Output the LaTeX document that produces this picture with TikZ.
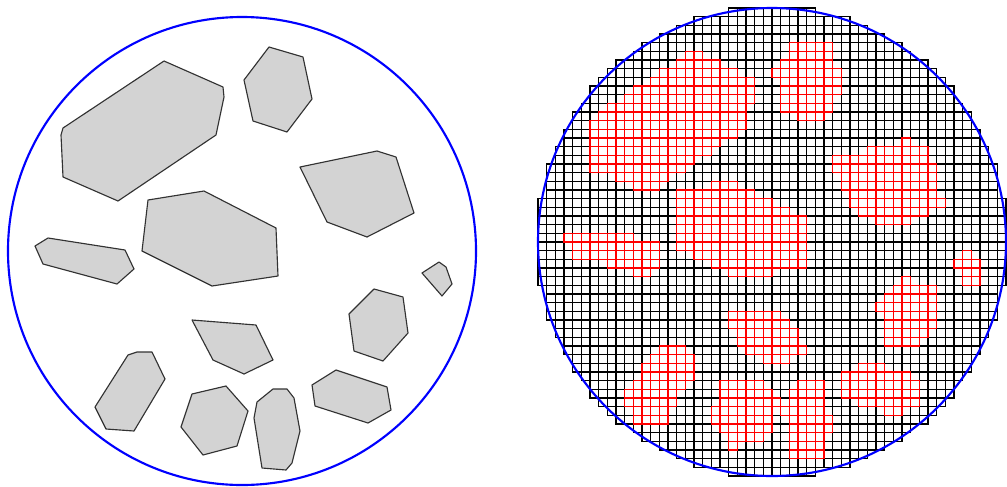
\documentclass[tikz,border=0pt]{standalone}
\usepackage{tikz}

\definecolor{aggfill}{RGB}{211,211,211}
\definecolor{aggline}{RGB}{50,50,50}

% aggregate outlines, in pixels of the left specimen (y down)
\def\aggA{164/61,223/87,224/97,216/135,118/201,63/177,61/135,63/128}
\def\aggB{269/47,303/57,312/99,287/132,253/121,244/80}
\def\aggC{300/167,377/151,396/157,414/213,367/237,327/222}
\def\aggD{148/200,204/191,276/228,278/276,212/286,142/251}
\def\aggE{48/238,125/250,134/269,117/284,43/264,35/246}
\def\aggF{192/320,256/325,273/360,244/374,213/360}
\def\aggG{128/355,137/352,152/352,165/379,134/431,106/429,95/407}
\def\aggH{192/394,226/386,248/411,237/446,203/455,181/427}
\def\aggI{422/273,439/262,446/267,452/284,442/296}
\def\aggJ{374/289,403/297,408/333,383/361,354/351,349/314}
\def\aggK{336/370,387/387,391/410,368/423,315/406,312/385}
\def\aggL{273/389,287/389,294/398,300/431,292/463,286/470,262/468,254/418,257/402}

\def\cellh{8.66667}
\newcount\negcnt
\newcount\poscnt

% draw one aggregate outline
\newcommand\aggdraw[1]{%
  \edef\vlist{#1}%
  \gdef\aggp{}%
  \foreach \px/\py in \vlist {\xdef\aggp{\aggp(\px,\py) -- }}%
  \edef\tmp{\noexpand\draw[aggregate] \aggp cycle;}\tmp}

% colour the mesh cells whose centre falls in an aggregate
\newcommand\redcells[1]{%
  \edef\vlist{#1}%
  \xdef\xmin{10000}\xdef\xmax{-1}\xdef\ymin{10000}\xdef\ymax{-1}%
  \foreach \px/\py in \vlist {%
    \xdef\xmin{\fpeval{min(\xmin,\px)}}\xdef\xmax{\fpeval{max(\xmax,\px)}}%
    \xdef\ymin{\fpeval{min(\ymin,\py)}}\xdef\ymax{\fpeval{max(\ymax,\py)}}%
    \xdef\lastx{\px}\xdef\lasty{\py}}%
  \edef\imin{\fpeval{floor((\xmin-8)/\cellh)}}\edef\imax{\fpeval{floor((\xmax-8)/\cellh)}}%
  \edef\jmin{\fpeval{floor((\ymin-17)/\cellh)}}\edef\jmax{\fpeval{floor((\ymax-17)/\cellh)}}%
  \foreach \i in {\imin,...,\imax} {%
    \foreach \j in {\jmin,...,\jmax} {%
      \edef\cx{\fpeval{8+(\i+0.5)*\cellh}}\edef\cy{\fpeval{17+(\j+0.5)*\cellh}}%
      \global\negcnt=0 \global\poscnt=0
      \xdef\ax{\lastx}\xdef\ay{\lasty}%
      \foreach \bx/\by in \vlist {%
        \edef\sg{\fpeval{sign((\bx-\ax)*(\cy-\ay)-(\by-\ay)*(\cx-\ax))}}%
        \ifnum\sg<0 \global\advance\negcnt 1 \fi
        \ifnum\sg>0 \global\advance\poscnt 1 \fi
        \xdef\ax{\bx}\xdef\ay{\by}}%
      \ifnum\numexpr\negcnt*\poscnt\relax=0
        \draw[redcell] (538+\i*\cellh,8+\j*\cellh) rectangle ++(\cellh,\cellh);
      \fi}}}

\begin{document}
\begin{tikzpicture}[
  x=0.75pt, y=-0.75pt,
  aggregate/.style={draw=aggline, fill=aggfill, line width=0.85pt, line join=round},
  boundary/.style={draw=blue, line width=1.6pt},
  cell/.style={draw=black, line width=1.05pt},
  redcell/.style={draw=red, line width=1.05pt}
]
\useasboundingbox (0,0) rectangle (1007,486);

\coordinate (lc) at (242,251);
\coordinate (rc) at (772,242);

% --- left: the specimen with its aggregates ---
\foreach \agg in {\aggA,\aggB,\aggC,\aggD,\aggE,\aggF,\aggG,\aggH,\aggI,\aggJ,\aggK,\aggL}
  {\aggdraw{\agg}}
\draw[boundary] (lc) circle[radius=234];

% --- right: the same specimen on a square mesh ---
\foreach \i in {0,...,53} {
  \foreach \j in {0,...,53} {
    \ifnum\numexpr(2*\i-53)*(2*\i-53)+(2*\j-53)*(2*\j-53)\relax<2916
      \draw[cell] (538+\i*\cellh,8+\j*\cellh) rectangle ++(\cellh,\cellh);
    \fi}}
\foreach \agg in {\aggA,\aggB,\aggC,\aggD,\aggE,\aggF,\aggG,\aggH,\aggI,\aggJ,\aggK,\aggL}
  {\redcells{\agg}}
\draw[boundary] (rc) circle[radius=234];

\end{tikzpicture}
\end{document}
